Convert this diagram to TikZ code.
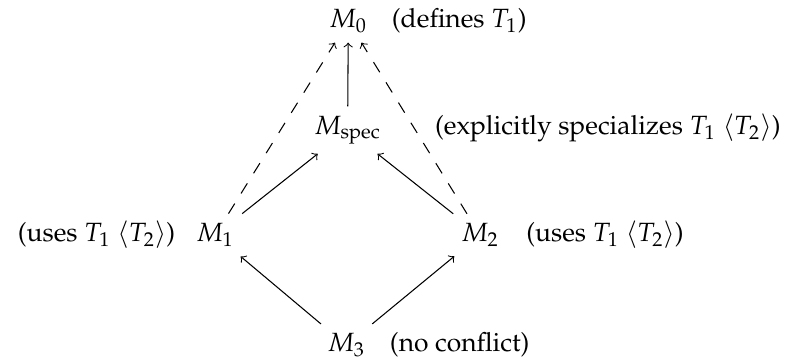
\documentclass[tikz,border=0pt]{standalone}
\usepackage[T1]{fontenc}
\usepackage{mathpazo}
\usepackage{amsmath}
\usetikzlibrary{positioning}

\begin{document}
\begin{tikzpicture}[
		module/.style={inner sep=3.5pt},
		note/.style={inner sep=3.5pt},
		dep/.style={->},
		indirect dep/.style={->, dash pattern=on 4.5pt off 4.5pt}
		]
		\useasboundingbox (0,0) rectangle (10.48,4.781);
		
		% ---------------------------------------------------------
		% Modules
		% ---------------------------------------------------------
		\node[module] (m0) at (4.638, 4.498) {$M_0$};
		\node[module] (mspec) at (4.629, 3.048) {$M_{\text{spec}}$};
		\node[module] (m1) at (2.865, 1.651) {$M_1$};
		\node[module] (m2) at (6.393, 1.651) {$M_2$};
		\node[module] (m3) at (4.612, 0.183) {$M_3$};
		
		% ---------------------------------------------------------
		% Notes next to the modules
		% ---------------------------------------------------------
		\node[note, base right=0.07cm of m0] (m0note) {(defines $T_1$)};
		\node[note, base right=0.46cm of mspec] (mspecnote) {(explicitly specializes $T_1$ $\langle T_2\rangle$)};
		\node[note, base left=0.02cm of m1] (m1note) {(uses $T_1$ $\langle T_2\rangle$)};
		\node[note, base right=0.105cm of m2] (m2note) {(uses $T_1$ $\langle T_2\rangle$)};
		\node[note, base right=0.07cm of m3] (m3note) {(no conflict)};
		
		% ---------------------------------------------------------
		% Dependencies
		% ---------------------------------------------------------
		\draw[dep] (mspec) -- (m0);
		\draw[indirect dep] (m1) -- (m0);
		\draw[indirect dep] (m2) -- (m0);
		\draw[dep] (m1) -- (mspec);
		\draw[dep] (m2) -- (mspec);
		\draw[dep] (m3) -- (m1);
		\draw[dep] (m3) -- (m2);
		
	\end{tikzpicture}
\end{document}
